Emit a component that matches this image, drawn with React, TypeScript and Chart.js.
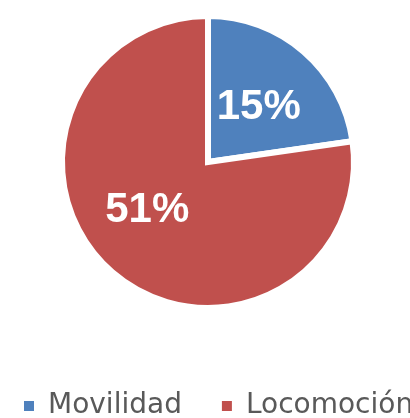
import React, { useEffect, useRef } from "react";
import { Chart, registerables } from "chart.js";

Chart.register(...registerables);

const CATEGORIES = ["Movilidad", "Locomoción"];
const VALUES = [15, 51];
const COLORS = ["#4F81BD", "#C0504D"];
// label placement tweaks (fraction of radius, px nudges)
const LABEL_RADIUS = 0.51;
const LABEL_NUDGE: [number, number][] = [
  [2, 2],
  [-12, -8],
];

const labelPlugin = {
  id: "sliceLabels",
  afterDatasetsDraw(chart: any) {
    const meta = chart.getDatasetMeta(0);
    const ctx = chart.ctx;
    ctx.save();
    ctx.font = 'bold 42px "Liberation Sans"';
    ctx.fillStyle = "#ffffff";
    ctx.textAlign = "center";
    ctx.textBaseline = "middle";
    meta.data.forEach((arc: any, i: number) => {
      const { x, y, startAngle, endAngle, outerRadius } = arc.getProps(
        ["x", "y", "startAngle", "endAngle", "outerRadius"],
        true
      );
      const mid = (startAngle + endAngle) / 2;
      const r = outerRadius * LABEL_RADIUS;
      const [nx, ny] = LABEL_NUDGE[i];
      ctx.fillText(
        `${VALUES[i]}%`,
        x + Math.cos(mid) * r + nx,
        y + Math.sin(mid) * r + ny
      );
    });
    ctx.restore();
  },
};

export default function App() {
  const ref = useRef<HTMLCanvasElement | null>(null);

  useEffect(() => {
    if (!ref.current) return;
    const chart = new Chart(ref.current, {
      type: "pie",
      data: {
        labels: CATEGORIES,
        datasets: [
          {
            data: VALUES,
            backgroundColor: COLORS,
            borderColor: "#ffffff",
            borderWidth: 6,
            borderJoinStyle: "miter",
          },
        ],
      },
      options: {
        responsive: true,
        maintainAspectRatio: false,
        animation: false,
        events: [],
        radius: 146,
        layout: { padding: 0 },
        plugins: {
          tooltip: { enabled: false },
          title: {
            display: true,
            text: "",
            position: "right",
            font: { size: 10 },
            padding: { top: 15, bottom: 15 },
          },
          subtitle: {
            display: true,
            text: "",
            position: "bottom",
            weight: 500,
            font: { size: 10 },
            padding: { top: 8, bottom: 8 },
          },
          legend: {
            display: true,
            position: "bottom",
            align: "start",
            labels: {
              boxWidth: 10,
              boxHeight: 10,
              padding: 40,
              color: "#595959",
              font: { family: '"DejaVu Sans"', size: 28 },
              generateLabels: (c: any) =>
                (Chart as any).overrides.pie.plugins.legend.labels
                  .generateLabels(c)
                  .map((l: any) => ({ ...l, lineWidth: 0 })),
            },
          },
        },
      } as any,
      plugins: [labelPlugin],
    });
    return () => chart.destroy();
  }, []);

  return (
    <div
      style={{
        position: "fixed",
        left: 0,
        top: 0,
        width: 410,
        height: 418,
        overflow: "hidden",
        background: "#ffffff",
      }}
    >
      <div
        style={{
          position: "absolute",
          left: -16,
          top: 0,
          width: 490,
          height: 430,
        }}
      >
        <canvas ref={ref} />
      </div>
    </div>
  );
}
